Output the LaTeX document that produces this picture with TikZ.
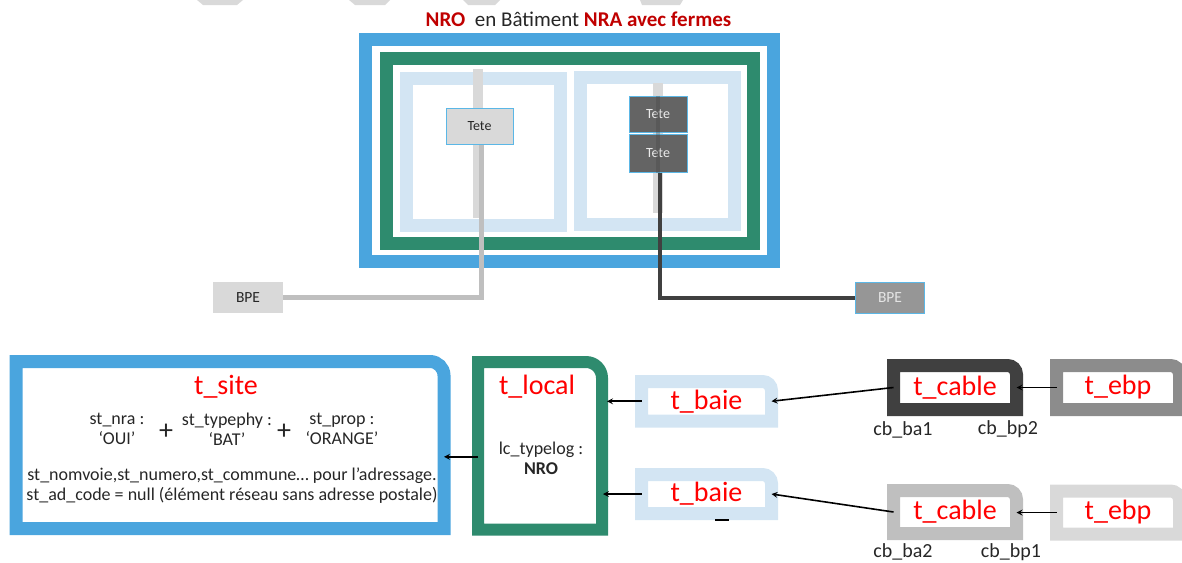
\documentclass[tikz,border=0pt]{standalone}
\usepackage{fontspec}
\setmainfont{Carlito}
\usetikzlibrary{shapes, arrows, positioning}

\definecolor{bleu}{RGB}{74,165,222}
\definecolor{vert}{RGB}{46,139,110}
\definecolor{bleuclair}{RGB}{211,229,243}
\definecolor{bleutrait}{RGB}{91,183,230}
\definecolor{grisclair}{RGB}{217,217,217}
\definecolor{grismoyen}{RGB}{191,191,191}
\definecolor{grisebp}{RGB}{140,140,140}
\definecolor{grisbpe}{RGB}{150,150,150}
\definecolor{gristete}{RGB}{100,100,100}
\definecolor{grisfonce}{RGB}{64,64,64}
\definecolor{rougetitre}{RGB}{192,0,0}
\definecolor{texte}{RGB}{38,38,38}

\begin{document}
\begin{tikzpicture}[x=1pt, y=-1pt,
    % Styles des cadres
    cadre/.style={rectangle, inner sep=0pt, outer sep=0pt, line width=13pt},
    boite/.style={rectangle, inner sep=0pt, outer sep=0pt},
    tete/.style={rectangle, draw=bleutrait, line width=1pt, inner sep=0pt, font=\fontsize{14}{16}\selectfont},
    bpe/.style={rectangle, inner sep=0pt, font=\fontsize{15.5}{18}\selectfont},
    % Styles des liaisons
    barre/.style={line width=10pt, draw=grisclair},
    cablegris/.style={line width=5pt, draw=grismoyen},
    cablenoir/.style={line width=4pt, draw=grisfonce},
    fleche/.style={->, >=stealth, line width=1.6pt, draw=black},
    % Styles du texte
    titre/.style={font=\fontsize{21}{24}\selectfont, text=texte},
    nomtable/.style={font=\fontsize{28}{32}\selectfont, text=red},
    champ/.style={font=\fontsize{18}{20}\selectfont, align=center, text=texte},
    signe/.style={font=\fontsize{28}{30}\selectfont, text=texte},
    etiquette/.style={font=\fontsize{20}{22}\selectfont, text=texte}
]
\useasboundingbox (0,0) rectangle (1182,562);
\clip (0,0) rectangle (1182,562);

% === FRAGMENTS EN HAUT ===
\fill[grisclair] (197,0) -- (243,0) -- (237,5) -- (203,5) -- cycle;
\fill[grisclair] (349,0) -- (390,0) -- (385,5) -- (355,5) -- cycle;
\fill[grisclair] (463,0) -- (500,0) -- (495,5) -- (468,5) -- cycle;
\fill[grisclair] (640,0) -- (683,0) -- (680,5) -- (642,5) -- cycle;

% === NRO EN BATIMENT ===
\node[titre] (titre) at (578.5,19) {\textcolor{rougetitre}{\textbf{NRO}}\ \ en Bâtiment \textcolor{rougetitre}{\textbf{NRA avec fermes}}};
\node[cadre, draw=bleu, minimum width=408pt, minimum height=222pt] (nro) at (569.5,150.5) {};
\node[cadre, draw=vert, minimum width=367pt, minimum height=185pt] (ferme) at (570,151) {};
\node[cadre, draw=bleuclair, minimum width=154.5pt, minimum height=146.5pt] (baieg) at (483.25,151.75) {};
\node[cadre, draw=bleuclair, minimum width=154.5pt, minimum height=146.5pt] (baied) at (657.25,150.75) {};

% barres verticales
\draw[barre] (478,69) -- (478,218);
\draw[barre] (658,83) -- (658,213);

% tetes
\node[tete, fill=grisclair, text=texte, minimum width=67pt, minimum height=36pt] (teteg) at (479.5,126) {Tete};
\node[tete, fill=gristete, text=white!92!black, minimum width=58pt, minimum height=36pt] (teted1) at (658,114) {Tete};
\node[tete, fill=gristete, text=white!92!black, minimum width=58pt, minimum height=38pt] (teted2) at (658,153) {Tete};
\draw[cablenoir, opacity=0.3] (teted1.north) -- (teted2.south);

% BPE
\node[bpe, fill=grisclair, text=texte, minimum width=70pt, minimum height=31pt] (bpeg) at (248,297.5) {BPE};
\node[bpe, fill=grisbpe, draw=bleutrait, line width=1pt, text=white!90!black, minimum width=69pt, minimum height=31pt] (bped) at (890,297.5) {BPE};

% cables
\draw[cablegris] ([xshift=1.5pt]teteg.south) |- (bpeg.east);
\draw[cablenoir] ([xshift=2pt]teted2.south) |- (bped.west);

% === TABLES ===
\node[boite, minimum width=428pt, minimum height=167pt] (site) at (230,445) {};
\node[boite, minimum width=124pt, minimum height=167.5pt] (local) at (540,445.75) {};
\node[boite, nomtable, minimum width=130pt, minimum height=39.5pt] (baie1) at (706.5,401.25) {t\_baie};
\node[boite, nomtable, minimum width=130pt, minimum height=39pt] (baie2) at (706.5,494) {t\_baie};
\node[boite, nomtable, minimum width=123pt, minimum height=44pt] (cable1) at (955,387.5) {t\_cable};
\node[boite, nomtable, minimum width=123pt, minimum height=43pt] (cable2) at (955,512) {t\_cable};
\node[boite, nomtable, minimum width=123pt, minimum height=44pt] (ebp1) at (1118,387.5) {t\_ebp};
\node[boite, nomtable, minimum width=123pt, minimum height=43pt] (ebp2) at (1118,512.5) {t\_ebp};

\foreach \n/\c/\e/\r in {site/bleu/13/14, local/vert/12/16, baie1/bleuclair/13/9, baie2/bleuclair/13/9,
    cable1/grisfonce/13/9, cable2/grismoyen/13/9, ebp1/grisebp/13/9, ebp2/grisclair/13/9}
  \draw[draw=\c, line width=\e pt] (\n.north) [rounded corners=\r pt] -- (\n.north east) -- (\n.east)
    [sharp corners] -- (\n.south east) -- (\n.south west) -- (\n.north west) -- cycle;

% contenu t_site
\node[nomtable] (titresite) at (226,387) {t\_site};
\node[champ] (nra) at (117,429) {st\_nra :\\‘OUI’};
\node[signe] (plus1) at (166,432) {+};
\node[champ] (typephy) at (227,429) {st\_typephy :\\‘BAT’};
\node[signe] (plus2) at (284,432) {+};
\node[champ] (prop) at (342,429) {st\_prop :\\‘ORANGE’};
\node[champ] (adresse) at (232,486) {st\_nomvoie,st\_numero,st\_commune… pour l’adressage.\\st\_ad\_code = null (élément réseau sans adresse postale)};

% contenu t_local
\node[nomtable] (titrelocal) at (537,387) {t\_local};
\node[champ] (typelog) at (541,458) {lc\_typelog :\\\textbf{NRO}};

% petit trait sous t_baie
\draw[line width=2pt] (715,520) -- (729,520);

% etiquettes des cables
\node[etiquette] (ba1) at (903,430) {cb\_ba1};
\node[etiquette] (bp2) at (1008,429) {cb\_bp2};
\node[etiquette] (ba2) at (903,552) {cb\_ba2};
\node[etiquette] (bp1) at (1011,552) {cb\_bp1};

% === LIAISONS ===
\draw[fleche] ([yshift=-11pt]local.west) -- ([yshift=-11pt]local.west -| site.east);
\draw[fleche, shorten >=5pt] (baie1.west) -- (baie1.west -| local.east);
\draw[fleche, shorten >=1pt] (baie2.west) -- (baie2.west -| local.east);
\draw[fleche] (cable1.west) -- (baie1.east);
\draw[fleche] (cable2.west) -- (baie2.east);
\draw[fleche] (ebp1.west) -- (cable1.east);
\draw[fleche] (ebp2.west) -- (ebp2.west -| cable2.east);

\end{tikzpicture}
\end{document}
